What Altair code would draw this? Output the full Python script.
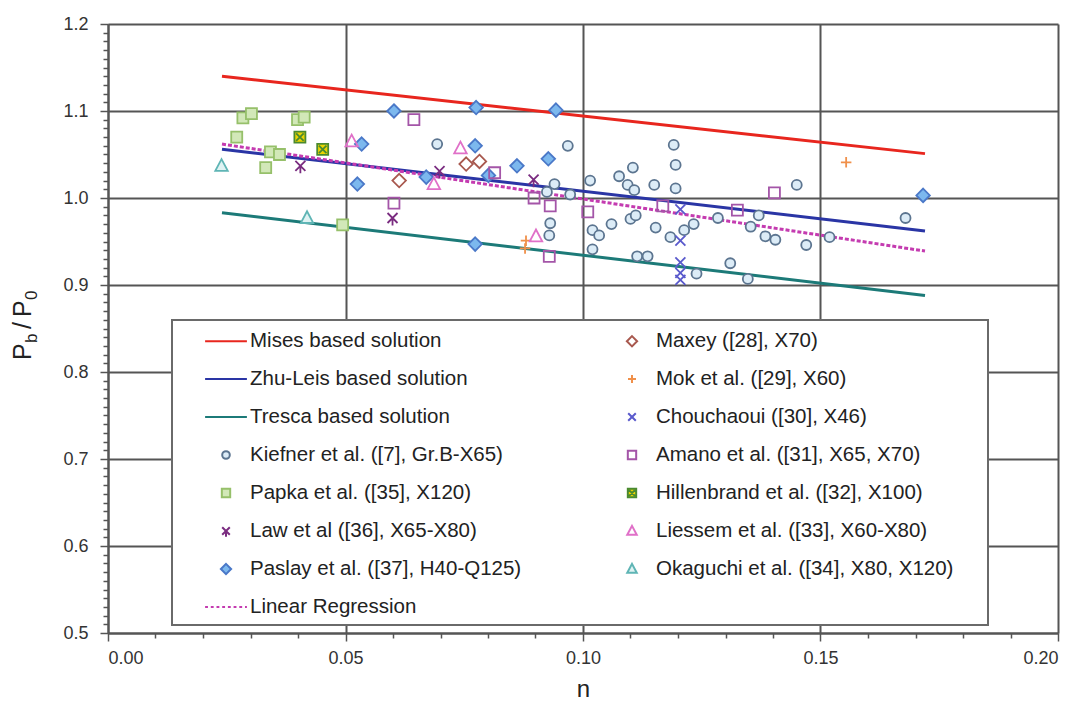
import altair as alt
import pandas as pd

# ---------------- data ----------------
line_n = [0.024, 0.172]
mises_p = [1.140, 1.051]
zhu_leis_p = [1.056, 0.962]
tresca_p = [0.983, 0.888]
regression_p = [1.062, 0.939]

kiefner_n = [0.0693, 0.0968, 0.0940, 0.0924, 0.0973, 0.1015, 0.1076, 0.1105, 0.1094, 0.1108,
             0.1150, 0.1191, 0.1195, 0.1195, 0.0931, 0.0929, 0.1020, 0.1034, 0.1020, 0.1060,
             0.1100, 0.1111, 0.1153, 0.1184, 0.1114, 0.1136, 0.1450, 0.1284, 0.1370, 0.1353,
             0.1384, 0.1405, 0.1470, 0.1213, 0.1233, 0.1310, 0.1239, 0.1347, 0.1519, 0.1679]
kiefner_p = [1.062, 1.060, 1.016, 1.007, 1.004, 1.020, 1.025, 1.035, 1.015, 1.009,
             1.015, 1.061, 1.038, 1.011, 0.971, 0.957, 0.963, 0.957, 0.941, 0.970,
             0.976, 0.980, 0.966, 0.955, 0.933, 0.933, 1.015, 0.977, 0.980, 0.967,
             0.956, 0.952, 0.946, 0.963, 0.970, 0.925, 0.913, 0.907, 0.955, 0.977]

papka_n = [0.0284, 0.0302, 0.0271, 0.0399, 0.0413, 0.0342, 0.0361, 0.0332, 0.0494]
papka_p = [1.092, 1.097, 1.070, 1.090, 1.093, 1.053, 1.050, 1.035, 0.969]

law_n = [0.0405, 0.0599, 0.0698, 0.0896]
law_p = [1.037, 0.977, 1.031, 1.021]

paslay_n = [0.0534, 0.0525, 0.0602, 0.0670, 0.0773, 0.0775, 0.0801, 0.0861, 0.0927, 0.0943, 0.0773, 0.1716]
paslay_p = [1.062, 1.016, 1.100, 1.024, 1.060, 1.104, 1.026, 1.037, 1.045, 1.101, 0.947, 1.003]

maxey_n = [0.0613, 0.0754, 0.0782]
maxey_p = [1.020, 1.039, 1.042]

mok_n = [0.0880, 0.0878, 0.1554]
mok_p = [0.951, 0.942, 1.041]

chouchaoui_n = [0.1205, 0.1205, 0.1205, 0.1205, 0.1205]
chouchaoui_p = [0.987, 0.951, 0.926, 0.914, 0.906]

amano_n = [0.0644, 0.0602, 0.0814, 0.0897, 0.0931, 0.0929, 0.1010, 0.1168, 0.1403, 0.1325]
amano_p = [1.090, 0.994, 1.029, 1.000, 0.991, 0.933, 0.984, 0.991, 1.006, 0.986]

hillenbrand_n = [0.0404, 0.0452]
hillenbrand_p = [1.070, 1.056]

liessem_n = [0.0513, 0.0742, 0.0686, 0.0901]
liessem_p = [1.065, 1.057, 1.016, 0.956]

okaguchi_n = [0.0239, 0.0419]
okaguchi_p = [1.037, 0.977]

legend_names = [
    "Mises based solution", "Zhu-Leis based solution", "Tresca  based solution",
    "Kiefner et al. ([7], Gr.B-X65)", "Papka et al. ([35], X120)", "Law et al ([36], X65-X80)",
    "Paslay et al. ([37], H40-Q125)", "Linear Regression",
    "Maxey ([28], X70)", "Mok et al. ([29], X60)", "Chouchaoui ([30], X46)",
    "Amano et al. ([31], X65, X70)", "Hillenbrand et al. ([32], X100)",
    "Liessem et al. ([33], X60-X80)", "Okaguchi et al. ([34], X80, X120)",
]

x_ticks = [round(i * 0.01, 2) for i in range(21)]
y_ticks = [round(0.5 + i * 0.01, 2) for i in range(71)]

# ---------------- styling ----------------
FONT = "Liberation Sans"
LINE = "M-1.1,0H1.1"
DOTS = "M-1.1,0H-0.95M-0.8,0H-0.65M-0.5,0H-0.35M-0.2,0H-0.05M0.1,0H0.25M0.4,0H0.55M0.7,0H0.85M1.0,0H1.1"
CIRCLE = "M0.2,0A0.2,0.2,0,1,1,-0.2,0A0.2,0.2,0,1,1,0.2,0Z"
SQUARE = "M-0.22,-0.22H0.22V0.22H-0.22Z"
DIAMOND = "M0,-0.27L0.27,0L0,0.27L-0.27,0Z"
TRIANGLE = "M0,-0.27L0.25,0.2H-0.25Z"
CROSS = "M-0.2,-0.2L0.2,0.2M-0.2,0.2L0.2,-0.2"
PLUS = "M-0.21,0H0.21M0,-0.21V0.21"
LAW = "M-0.2,-0.2L0.2,0.2M-0.2,0.2L0.2,-0.2M0,0V0.3"
HILLEN = SQUARE + "M-0.15,-0.15L0.15,0.15M-0.15,0.15L0.15,-0.15"

shape_range = [LINE, LINE, LINE, CIRCLE, SQUARE, LAW, DIAMOND, DOTS,
               DIAMOND, PLUS, CROSS, SQUARE, HILLEN, TRIANGLE, TRIANGLE]
stroke_range = ["#e8261e", "#2a35a5", "#1c7a78", "#5c7590", "#96c06a", "#7a2c80", "#4a78c8", "#c43bb0",
                "#a8584e", "#f0904a", "#5a5acc", "#a455a8", "#4a8a30", "#e070c8", "#5fb5b5"]
fill_range = ["transparent", "transparent", "transparent", "#dcecf7", "#d2e8b8", "transparent", "#7cb8ee",
              "transparent", "transparent", "transparent", "transparent", "transparent", "#ecd400",
              "transparent", "#dff3f3"]

# ---------------- tables ----------------
groups = [
    (legend_names[3], kiefner_n, kiefner_p), (legend_names[4], papka_n, papka_p),
    (legend_names[5], law_n, law_p), (legend_names[6], paslay_n, paslay_p),
    (legend_names[8], maxey_n, maxey_p), (legend_names[9], mok_n, mok_p),
    (legend_names[10], chouchaoui_n, chouchaoui_p), (legend_names[11], amano_n, amano_p),
    (legend_names[12], hillenbrand_n, hillenbrand_p), (legend_names[13], liessem_n, liessem_p),
    (legend_names[14], okaguchi_n, okaguchi_p),
]
rows = []
for name, ns, ps in groups:
    for a, b in zip(ns, ps):
        rows.append({"n": a, "P": b, "series": name})
points = pd.DataFrame(rows)

major_y = "abs(datum.value*10 - round(datum.value*10)) < 0.001"
major_x = "abs(datum.value*20 - round(datum.value*20)) < 0.001"

X = alt.X("n:Q", scale=alt.Scale(domain=[0, 0.2], nice=False, zero=False),
          axis=alt.Axis(values=x_ticks, title="n",
                        labelExpr=f"{major_x} ? format(datum.value, '.2f') : ''",
                        tickSize={"condition": {"test": major_x, "value": 8}, "value": 5},
                        gridOpacity={"condition": {"test": major_x, "value": 1}, "value": 0},
                        labelOverlap=False, labelPadding=8, labelFontSize=18, labelFont=FONT,
                        labelColor="#333", titleFont=FONT, titleColor="#222",
                        titleFontSize=24, titleFontWeight="normal", titlePadding=10))
Y = alt.Y("P:Q", scale=alt.Scale(domain=[0.5, 1.2], nice=False, zero=False),
          axis=alt.Axis(values=y_ticks, title=None,
                        labelExpr=f"{major_y} ? format(datum.value, '.1f') : ''",
                        tickSize={"condition": {"test": major_y, "value": 8}, "value": 5},
                        gridOpacity={"condition": {"test": major_y, "value": 1}, "value": 0},
                        labelOverlap=False, labelPadding=12, labelFontSize=18, labelFont=FONT,
                        labelColor="#333"))


def line_layer(vals, color, dash=None):
    df = pd.DataFrame({"n": line_n, "P": vals})
    kw = dict(color=color, strokeWidth=3)
    if dash:
        kw["strokeDash"] = dash
    return alt.Chart(df).mark_line(**kw).encode(x=X, y=Y)


one = pd.DataFrame({"k": [0]})
box = alt.Chart(one).mark_rect(fill="white", stroke="#6a6a6a", strokeWidth=2).encode(
    x=alt.value(64), x2=alt.value(880), y=alt.value(296), y2=alt.value(601))

leg = alt.Legend(title=None, orient="none", legendX=98, legendY=297, columns=2, direction="vertical",
                 columnPadding=90, rowPadding=7, symbolSize=1444, symbolStrokeWidth=2,
                 labelFont=FONT, labelFontSize=20.5, labelColor="#222", labelLimit=600, labelOffset=4,
                 padding=0)

pts = alt.Chart(points).mark_point(filled=True, size=2500, strokeWidth=1.8, opacity=1).encode(
    x=X, y=Y,
    shape=alt.Shape("series:N", scale=alt.Scale(domain=legend_names, range=shape_range), legend=leg),
    stroke=alt.Stroke("series:N", scale=alt.Scale(domain=legend_names, range=stroke_range), legend=leg),
    fill=alt.Fill("series:N", scale=alt.Scale(domain=legend_names, range=fill_range), legend=leg),
)


def txt(s, x, y, size):
    return alt.Chart(one).mark_text(text=s, angle=270, align="left", baseline="alphabetic",
                                    font=FONT, fontSize=size, color="#222").encode(
        x=alt.value(x), y=alt.value(y))


ytitle = (txt("P", -77, 336, 25) + txt("b", -71, 319, 17) + txt("/", -77, 305, 25)
          + txt("P", -77, 293, 25) + txt("0", -71, 276, 17))

chart = alt.layer(
    box,
    line_layer(mises_p, "#e8261e"),
    line_layer(zhu_leis_p, "#2a35a5"),
    line_layer(tresca_p, "#1c7a78"),
    line_layer(regression_p, "#c43bb0", [4, 2]),
    pts,
    ytitle,
).properties(
    width=950, height=609,
    background="white",
    autosize=alt.AutoSizeParams(type="none"),
    padding={"left": 100, "top": 16, "right": 18, "bottom": 70},
).configure_view(stroke=None).configure_axis(
    domainColor="#555", domainWidth=2, gridColor="#555", gridWidth=2,
    tickColor="#555", tickWidth=1.5,
)

chart.save("out.html", embed_options={"renderer": "svg", "actions": False})
